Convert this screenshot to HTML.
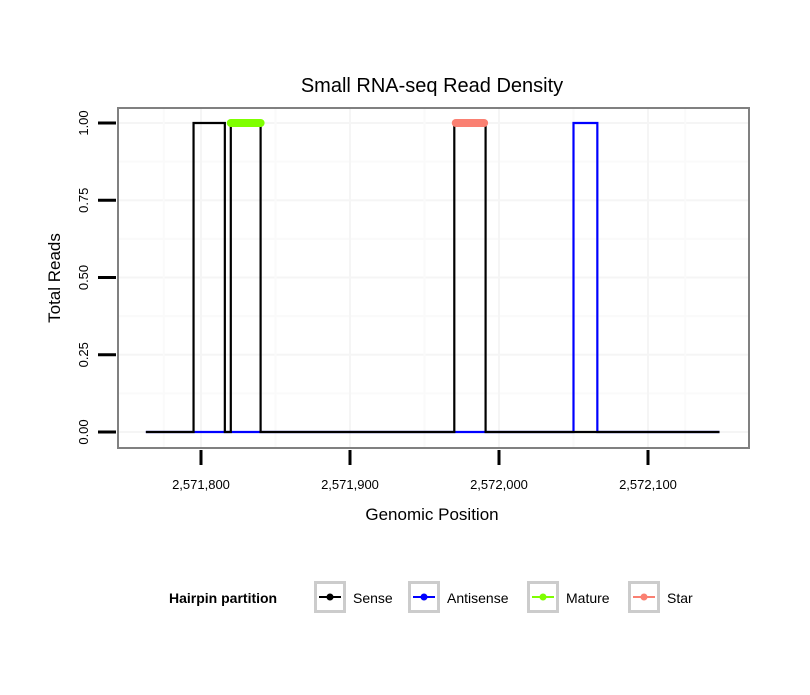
<!DOCTYPE html>
<html><head><meta charset="utf-8"><style>
body{margin:0;background:#fff;}
svg text{font-family:"Liberation Sans",sans-serif;}
</style></head><body>
<svg id="chart" width="810" height="690">
<rect width="810" height="690" fill="#fff"/>
<text x="432" y="92" font-size="20" text-anchor="middle">Small RNA-seq Read Density</text>
<g id="grid"></g>
<g id="series"></g>
<rect x="118" y="108" width="631" height="340" fill="none" stroke="#808080" stroke-width="2"/>
<g id="axes"></g>
<text x="432" y="520" font-size="17" text-anchor="middle">Genomic Position</text>
<text transform="translate(60,278) rotate(-90)" font-size="17" text-anchor="middle">Total Reads</text>
<g>
<text x="169" y="603" font-size="14" font-weight="bold">Hairpin partition</text>
<g id="legend"></g>
</g>
</svg>
<script>
const xTicks=[2571800,2571900,2572000,2572100];
const xTickLabels=["2,571,800","2,571,900","2,572,000","2,572,100"];
const yTicks=[0,0.25,0.5,0.75,1];
const yTickLabels=["0.00","0.25","0.50","0.75","1.00"];
const range=[2571763,2572148];
const senseReads=[[2571795,2571816,1],[2571820,2571840,1],[2571970,2571991,1]];
const antisenseReads=[[2572050,2572066,1]];
const matureRegion=[2571820,2571840,1];
const starRegion=[2571971,2571990,1];
const legendNames=["Sense","Antisense","Mature","Star"];
const legendColors=["#000000","#0000ff","#7fff00","#fa8072"];

const X=v=>201+(v-2571800)*1.49;
const Y=v=>432-v*309;
const NS="http://www.w3.org/2000/svg";
function mk(tag,attrs,parent){const e=document.createElementNS(NS,tag);for(const k in attrs)e.setAttribute(k,attrs[k]);parent.appendChild(e);return e;}
const grid=document.getElementById('grid'),series=document.getElementById('series'),axes=document.getElementById('axes'),legend=document.getElementById('legend');

for(let i=0;i<yTicks.length;i++){
  const g=mk('line',{x1:118,x2:749,y1:Y(yTicks[i]),y2:Y(yTicks[i]),stroke:'#f5f5f5','stroke-width':2},grid);
  
  
  if(i<yTicks.length-1){const m=mk('line',{x1:118,x2:749,y1:Y((yTicks[i]+yTicks[i+1])/2),y2:Y((yTicks[i]+yTicks[i+1])/2),stroke:'#fafafa','stroke-width':2},grid);
  
  }
}
const xg=[xTicks[0]-50].concat(xTicks).concat([xTicks[xTicks.length-1]+50]);
for(let i=0;i<xTicks.length;i++){
  const g=mk('line',{x1:X(xTicks[i]),x2:X(xTicks[i]),y1:108,y2:448,stroke:'#f5f5f5','stroke-width':2},grid);
  
  
}
for(let i=0;i<xg.length-1;i++){
  const v=(xg[i]+xg[i+1])/2;
  if(X(v)<118||X(v)>749)continue;
  const m=mk('line',{x1:X(v),x2:X(v),y1:108,y2:448,stroke:'#fafafa','stroke-width':2},grid);
  
  
}

function stepPath(reads){
  let d=`M${X(range[0])},${Y(0)}`;
  reads.forEach(r=>{d+=` L${X(r[0])},${Y(0)} L${X(r[0])},${Y(r[2])} L${X(r[1])},${Y(r[2])} L${X(r[1])},${Y(0)}`;});
  d+=` L${X(range[1])},${Y(0)}`;return d;
}
const pa=mk('path',{d:stepPath(antisenseReads),fill:'none',stroke:'#0000ff','stroke-width':2.2},series);


const ps=mk('path',{d:stepPath(senseReads),fill:'none',stroke:'#000','stroke-width':2.2},series);


const pm=mk('line',{x1:X(matureRegion[0]),x2:X(matureRegion[1]),y1:Y(matureRegion[2]),y2:Y(matureRegion[2]),stroke:'#7fff00','stroke-width':8,'stroke-linecap':'round'},series);


const pst=mk('line',{x1:X(starRegion[0]),x2:X(starRegion[1]),y1:Y(starRegion[2]),y2:Y(starRegion[2]),stroke:'#fa8072','stroke-width':8,'stroke-linecap':'round'},series);



yTicks.forEach((v,i)=>{
  const t=mk('line',{x1:98,x2:116,y1:Y(v),y2:Y(v),stroke:'#000','stroke-width':3},axes);
  
  
  const l=mk('text',{transform:`translate(88,${Y(v)}) rotate(-90)`,'font-size':13,'text-anchor':'middle'},axes);
  l.textContent=yTickLabels[i];
  
  
});
xTicks.forEach((v,i)=>{
  const t=mk('line',{x1:X(v),x2:X(v),y1:450,y2:465,stroke:'#000','stroke-width':3},axes);
  
  
  const l=mk('text',{x:X(v),y:489,'font-size':13,'text-anchor':'middle'},axes);
  l.textContent=xTickLabels[i];
  
  
});

const keyX=[314,408,527,628];
legendNames.forEach((n,i)=>{
  const k=mk('rect',{x:keyX[i]+1.5,y:582.5,width:29,height:29,fill:'#fff',stroke:'#ccc','stroke-width':3},legend);
  
  
  mk('line',{x1:keyX[i]+5,x2:keyX[i]+27,y1:597,y2:597,stroke:legendColors[i],'stroke-width':2},legend);
  mk('circle',{cx:keyX[i]+16,cy:597,r:3.5,fill:legendColors[i]},legend);
  const t=mk('text',{x:keyX[i]+39,y:603,'font-size':14},legend);
  t.textContent=n;
  
  
});
</script>
</body></html>
